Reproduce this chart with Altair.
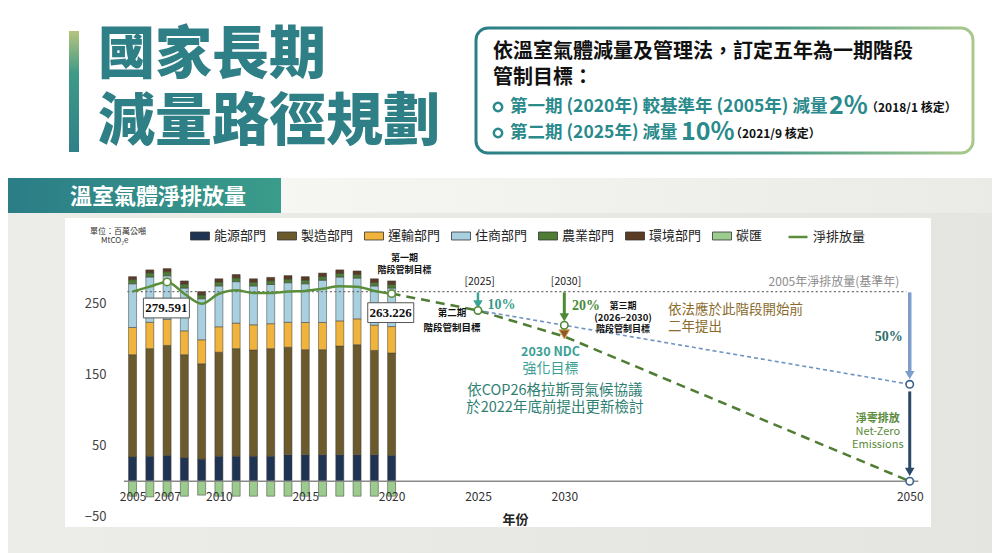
import altair as alt
import pandas as pd

FONT = "Noto Sans CJK TC"
SERIF = "Liberation Serif"

# ---------------- data ----------------
years = list(range(2005, 2021))
energy = [34, 35, 36, 33, 31, 35, 35, 35, 35, 37, 37, 37, 37, 37, 37, 36]
manufacturing = [143.5, 151, 154.5, 144.5, 133.8, 146, 151, 149, 151, 151, 147.5, 147.5, 152.6, 154.5, 146.5, 143.8]
transport = [38.2, 37, 36.5, 33.5, 33.7, 35.7, 35.8, 35.5, 35, 35, 38.2, 38.2, 35.4, 36.3, 35.5, 37.2]
residential_commercial = [61.3, 63.5, 61.3, 60, 57.5, 57.3, 58.2, 54.5, 55, 55.5, 54.3, 59.3, 61.5, 57.2, 55, 54]
agriculture = [5.8, 5.7, 5.6, 5.5, 5.4, 5.3, 5.3, 5.2, 5.2, 5.2, 5.1, 5.0, 5.0, 5.0, 4.9, 4.9]
environment = [4.2, 4.3, 4.4, 4.5, 4.6, 4.7, 4.7, 4.8, 4.8, 4.8, 4.9, 5.0, 5.0, 5.0, 5.1, 5.1]
carbon_sink = [-21, -22, -21, -21, -19.5, -21, -21, -21, -21, -21, -21, -21, -21, -21, -21, -21]
net_emissions = [266, 273, 279.591, 263, 249, 263, 268, 264, 264, 266, 267, 270, 273.5, 273, 267, 263.226]

sectors = ["能源部門", "製造部門", "運輸部門", "住商部門", "農業部門", "環境部門", "碳匯"]
sector_colors = ["#1f3352", "#6b5a2c", "#f0b43c", "#a9d0df", "#4f7d36", "#5b3b22", "#9ccb8e"]
net_label = "淨排放量"

baseline_2005 = 266
path_years = [2020, 2025, 2030, 2050]
netzero_path = [263.226, 239.6, 203, 0]
target_years = [2025, 2030, 2050]
target_path = [239.6, 218.8, 136]

tick_years = [2005, 2007, 2010, 2015, 2020, 2025, 2030, 2050]
y_ticks = [250, 150, 50, -50]

# ---------------- scales / axes ----------------
xscale = alt.Scale(domain=[2004.1, 2051], nice=False, zero=False)
yscale = alt.Scale(domain=[-60, 330], nice=False, zero=False)
XAX = alt.Axis(values=tick_years, format="d", domain=False, ticks=False, grid=False,
               labelFont=FONT, labelFontSize=12, labelColor="#333", labelPadding=2,
               labelFlush=False, labelOverlap=False, offset=-35, zindex=1,
               title="年份", titleFont=FONT, titleFontSize=13, titleFontWeight="bold",
               titleColor="#222", titlePadding=11, titleX=403)
YAX = alt.Axis(values=y_ticks, domain=False, ticks=False, grid=False, labelFont=FONT,
               labelFontSize=13, labelColor="#444", labelPadding=6, title=None, zindex=1)


def X(f="year"):
    return alt.X(f"{f}:Q", scale=xscale, axis=XAX)


def Y(f="value", **kw):
    return alt.Y(f"{f}:Q", scale=yscale, axis=YAX, **kw)


OX, OY = 112, 246  # page position of the plot origin
one = pd.DataFrame({"k": [0]})


def grad(stops, horizontal=True):
    return alt.LinearGradient(
        gradient="linear",
        stops=[alt.GradientStop(color=c, offset=o) for o, c in stops],
        x1=0, y1=0, x2=1 if horizontal else 0, y2=0 if horizontal else 1)


def deco_rect(x1, y1, x2, y2, **kw):
    return alt.Chart(one).mark_rect(**kw).encode(
        x=alt.value(x1 - OX), x2=alt.value(x2 - OX), y=alt.value(y1 - OY), y2=alt.value(y2 - OY))


def deco_text(x, y, text, size, color, weight="bold", align="left", font=FONT):
    return alt.Chart(one).mark_text(text=text, fontSize=size, color=color, fontWeight=weight,
                                    align=align, baseline="middle", font=font).encode(
        x=alt.value(x - OX), y=alt.value(y - OY))


def deco_ring(x, y, color):
    return alt.Chart(one).mark_point(shape="circle", size=70, filled=True, fill="white",
                                     stroke=color, strokeWidth=2.5, opacity=1).encode(
        x=alt.value(x - OX), y=alt.value(y - OY))


def note(x, y, text, size, color, weight="normal", align="center", font=FONT):
    df = pd.DataFrame({"year": [x], "value": [y], "label": [text]})
    return alt.Chart(df).mark_text(fontSize=size, color=color, fontWeight=weight, align=align,
                                   baseline="middle", font=font).encode(
        x=X(), y=Y(), text="label:N")


TEAL = "#2a8a8c"
layers = []

# ---------------- page decoration ----------------
layers.append(deco_rect(0, 178, 1000, 553, fill=grad([(0, "#ecece8"), (1, "#e4e4e0")])))
layers.append(deco_rect(280, 178, 1000, 213, fill=grad([(0, "#f6f6f3"), (1, "#eaeae6")])))
layers.append(deco_rect(0, 178, 281, 213, fill=grad([(0, "#2a7c86"), (1, "#3a9c8a")])))
layers.append(deco_rect(65, 218, 931, 527, fill="#ffffff"))
layers.append(deco_rect(69, 31, 79, 152, fill=grad([(0, "#b6c47c"), (0.35, "#3e9a88"), (1, "#2f8088")], horizontal=False)))
layers.append(deco_text(98, 56, "國家長期", 57, "#2f7f86", weight=900))
layers.append(deco_text(98, 123, "減量路徑規劃", 57, "#2f7f86", weight=900))
layers.append(deco_rect(476, 28, 973, 153, fill="#ffffff", cornerRadius=12, strokeWidth=3,
                        stroke=grad([(0, "#2a8087"), (0.6, "#4a9a8a"), (1, "#a9c98c")])))
layers.append(deco_text(493, 52, "依溫室氣體減量及管理法，訂定五年為一期階段", 20, "#111"))
layers.append(deco_text(493, 78, "管制目標：", 20, "#111"))
layers.append(deco_ring(498, 107, TEAL))
layers.append(deco_ring(498, 133, TEAL))
layers.append(deco_text(510, 107, "第一期 (2020年) 較基準年 (2005年) 減量", 17.5, TEAL))
layers.append(deco_text(829, 106, "2%", 25, TEAL))
layers.append(deco_text(866, 108, "（2018/1 核定）", 12, "#111"))
layers.append(deco_text(681, 132, "10%", 25, TEAL))
layers.append(deco_text(510, 133, "第二期 (2025年) 減量", 17.5, TEAL))
layers.append(deco_text(730, 134, "（2021/9 核定）", 12, "#111"))
layers.append(deco_text(70, 197, "溫室氣體淨排放量", 22, "#ffffff"))
layers.append(deco_text(90, 232, "單位：百萬公噸", 8, "#333", weight="normal"))
layers.append(deco_text(101, 241, "MtCO₂e", 8, "#333", weight="normal"))

# ---------------- data marks ----------------
rows = []
for i, (name, vals) in enumerate(zip(sectors, [energy, manufacturing, transport, residential_commercial,
                                                 agriculture, environment, carbon_sink])):
    for yr, v in zip(years, vals):
        rows.append({"year": yr, "value": v, "sector": name, "ord": i})
bars_df = pd.DataFrame(rows)

LEG = alt.Legend(orient="none", legendX=78, legendY=-20, direction="horizontal", title=None,
                 symbolType="M-1,-0.42H1V0.42H-1Z", symbolSize=361, symbolStrokeColor="#333333",
                 symbolStrokeWidth=0.8, symbolOpacity=1, labelFont=FONT, labelFontSize=13,
                 labelColor="#222", labelOffset=4, columnPadding=8, padding=0)
LEG2 = alt.Legend(orient="none", legendX=675, legendY=-20, direction="horizontal", title=None,
                  symbolType="stroke", symbolSize=361, symbolStrokeWidth=2.5, labelFont=FONT,
                  labelFontSize=13, labelColor="#222", labelOffset=4, padding=0)

bars = alt.Chart(bars_df).mark_bar(size=8, stroke="#3a3a3a", strokeWidth=0.5).encode(
    x=X(), y=Y(stack="zero"),
    fill=alt.Fill("sector:N", scale=alt.Scale(domain=sectors, range=sector_colors), legend=LEG),
    order=alt.Order("ord:Q"))
layers.append(bars)

zero_df = pd.DataFrame({"year": [2004.5], "x2": [2050.5], "value": [0]})
layers.append(alt.Chart(zero_df).mark_rule(color="#8a8a8a", strokeWidth=1.5).encode(
    x=X(), x2="x2:Q", y=Y()))

base_df = pd.DataFrame({"year": [2004.7], "x2": [2049.8], "value": [baseline_2005]})
layers.append(alt.Chart(base_df).mark_rule(color="#6e6e6e", strokeWidth=1.4, strokeDash=[2, 2.5]).encode(
    x=X(), x2="x2:Q", y=Y()))

nz_df = pd.DataFrame({"year": path_years, "value": netzero_path})
layers.append(alt.Chart(nz_df).mark_line(color="#4e7d33", strokeWidth=2.5, strokeDash=[9, 6]).encode(
    x=X(), y=Y()))

tg_df = pd.DataFrame({"year": target_years, "value": target_path})
layers.append(alt.Chart(tg_df).mark_line(color="#6f93c2", strokeWidth=1.6, strokeDash=[4, 3]).encode(
    x=X(), y=Y()))

net_df = pd.DataFrame({"year": years, "value": net_emissions, "series": [net_label] * len(years)})
layers.append(alt.Chart(net_df).mark_line(interpolate="monotone", strokeWidth=2.5).encode(
    x=X(), y=Y(),
    stroke=alt.Stroke("series:N", scale=alt.Scale(domain=[net_label], range=["#5b8e3b"]), legend=LEG2)))

# arrows
arrow_df = pd.DataFrame({
    "year": [2025, 2030, 2050, 2050],
    "value": [265, 265, 265, 126],
    "value2": [250, 232, 152, 17],
    "c": ["#3aa595", "#4e8a35", "#7d9dcb", "#2b4868"],
    "w": [2.5, 3, 3.5, 3],
})
layers.append(alt.Chart(arrow_df).mark_rule().encode(
    x=X(), y=Y(), y2="value2:Q", color=alt.Color("c:N", scale=None),
    strokeWidth=alt.StrokeWidth("w:Q", scale=None)))
head_df = pd.DataFrame({"year": [2025, 2030, 2050, 2050], "value": [248, 230, 149, 13],
                        "c": ["#3aa595", "#4e8a35", "#7d9dcb", "#2b4868"]})
layers.append(alt.Chart(head_df).mark_point(shape="triangle-down", filled=True, size=90, opacity=1).encode(
    x=X(), y=Y(), color=alt.Color("c:N", scale=None)))

# brown marker at 2030 NDC
layers.append(alt.Chart(pd.DataFrame({"year": [2030], "value": [206]})).mark_point(
    shape="triangle-down", filled=True, size=110, fill="#8a5a2b", stroke="#e3a24a", strokeWidth=1,
    opacity=1).encode(x=X(), y=Y()))

# open circles
circ_df = pd.DataFrame({
    "year": [2007, 2020, 2025, 2030, 2050, 2050],
    "value": [279.591, 263.226, 239.6, 218.8, 136, 0],
    "c": ["#5b8e3b", "#5b8e3b", "#4e8a35", "#4e8a35", "#3d6290", "#3d6290"],
})
layers.append(alt.Chart(circ_df).mark_point(shape="circle", filled=True, fill="white", size=55,
                                            strokeWidth=1.6, opacity=1).encode(
    x=X(), y=Y(), stroke=alt.Stroke("c:N", scale=None, legend=None)))

# boxed value labels
box_df = pd.DataFrame({"year": [2006.96, 2019.95], "value": [243, 236.5], "label": ["279.591", "263.226"]})
layers.append(alt.Chart(box_df).mark_point(shape="M-1,-0.43H1V0.43H-1Z", size=2116, filled=True,
                                           fill="white", stroke="#555", strokeWidth=1, opacity=1).encode(
    x=X(), y=Y()))
layers.append(alt.Chart(box_df).mark_text(font=SERIF, fontSize=13, fontWeight="bold", color="#111").encode(
    x=X(), y=Y(), text="label:N"))

# annotations
layers += [
    note(2020.75, 313, "第一期", 9, "#111", "bold"),
    note(2020.75, 296.5, "階段管制目標", 9, "#111", "bold"),
    note(2025.1, 279.7, "[2025]", 10.5, "#222"),
    note(2030.1, 279.7, "[2030]", 10.5, "#222"),
    note(2023.5, 236, "第二期", 9.5, "#111", "bold"),
    note(2023.5, 215.5, "階段管制目標", 9.5, "#111", "bold"),
    note(2033.4, 245.5, "第三期", 9, "#111", "bold"),
    note(2033.4, 229, "(2026~2030)", 9.5, "#111", "bold"),
    note(2033.4, 213.5, "階段管制目標", 9, "#111", "bold"),
    note(2036.0, 240.5, "依法應於此階段開始前", 13.5, "#8a6b2c", "normal", "left"),
    note(2036.0, 217, "二年提出", 13.5, "#8a6b2c", "normal", "left"),
    note(2025.55, 247.8, "10%", 14, "#3a9a8a", "bold", "left", SERIF),
    note(2030.45, 245.4, "20%", 14, "#4a8a3a", "bold", "left", SERIF),
    note(2049.6, 202.4, "50%", 14, "#2e6d6a", "bold", "right", SERIF),
    note(2049.4, 279.7, "2005年淨排放量(基準年)", 12, "#8c8c8c", "normal", "right"),
    note(2029.2, 180.7, "2030 NDC", 12.5, "#3aa095", "bold"),
    note(2029.2, 157, "強化目標", 14, "#3aa095", "normal"),
    note(2029.45, 126.5, "依COP26格拉斯哥氣候協議", 14.5, "#2f7f73", "normal"),
    note(2029.45, 102.5, "於2022年底前提出更新檢討", 14.5, "#2f7f73", "normal"),
    note(2048.15, 88, "淨零排放", 11, "#5a8a3a", "bold"),
    note(2048.15, 69.5, "Net-Zero", 11, "#5a8a3a", "normal"),
    note(2048.15, 51, "Emissions", 11, "#5a8a3a", "normal"),
]

chart = alt.layer(*layers).properties(
    width=820, height=278,
    padding={"left": 104, "top": 238, "right": 60, "bottom": 29},
    autosize=alt.AutoSizeParams(type="none"),
    background="#ffffff",
).configure_view(stroke=None)

chart.save("out.html", embed_options={"renderer": "svg", "actions": False})
